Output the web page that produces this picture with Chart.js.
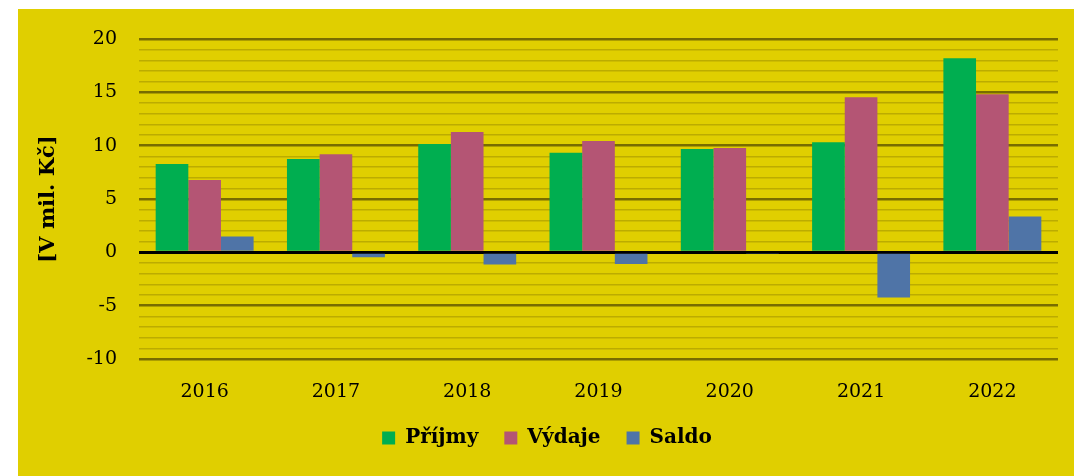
<!DOCTYPE html>
<html>
<head>
<meta charset="utf-8">
<script src="https://cdn.jsdelivr.net/npm/chart.js@4/dist/chart.umd.min.js"></script>
<style>
  html, body { margin: 0; padding: 0; background: #fff; }
  #wrap { width: 1074px; height: 476px; }
</style>
</head>
<body>
<div id="wrap"><canvas id="c" width="1074" height="476"></canvas></div>
<script>
const years = ['2016', '2017', '2018', '2019', '2020', '2021', '2022'];
const prijmy = [8.28, 8.75, 10.15, 9.34, 9.68, 10.31, 18.19];
const vydaje = [6.78, 9.19, 11.27, 10.43, 9.78, 14.55, 14.83];
const saldo = [1.48, -0.45, -1.14, -1.10, -0.10, -4.24, 3.36];
const yMin = -10, yMax = 20;

// yellow panel behind the chart (starts a bit in from the top-left corner)
const panelBg = {
  id: 'panelBg',
  beforeDraw(chart) {
    const ctx = chart.ctx;
    ctx.save();
    ctx.fillStyle = '#E0CF00';
    ctx.fillRect(18, 9, chart.width - 18, chart.height - 9);
    ctx.restore();
  }
};

const serif = 'DejaVu Serif';

new Chart(document.getElementById('c'), {
  type: 'bar',
  data: {
    labels: years,
    datasets: [
      { label: 'Příjmy', data: prijmy, backgroundColor: '#00AE50' },
      { label: 'Výdaje', data: vydaje, backgroundColor: '#B45574' },
      { label: 'Saldo', data: saldo, backgroundColor: '#4F74A7' }
    ]
  },
  options: {
    responsive: false,
    animation: false,
    layout: { padding: { top: 39, right: 16, bottom: 18, left: 36 } },
    datasets: {
      bar: { barPercentage: 1, categoryPercentage: 0.746 }
    },
    plugins: {
      legend: {
        position: 'bottom',
        labels: {
          boxWidth: 13,
          boxHeight: 13,
          padding: 26,
          color: '#000',
          font: { family: serif, size: 20, weight: 'bold' }
        }
      },
      tooltip: { enabled: false }
    },
    scales: {
      x: {
        grid: { display: false },
        border: { display: false },
        ticks: { color: '#000', padding: 14, font: { family: serif, size: 19 } },
        afterFit(scale) { scale.height = 43; }
      },
      y: {
        min: yMin,
        max: yMax,
        border: { display: false },
        grid: {
          drawTicks: false,
          color(ctx) {
            const v = ctx.tick.value;
            if (v === 0) return '#000';
            if (v % 5 === 0) return '#786C00';
            return '#BCAC00';
          },
          lineWidth(ctx) {
            const v = ctx.tick.value;
            if (v === 0) return 3;
            if (v % 5 === 0) return 2.5;
            return 1.5;
          }
        },
        ticks: {
          stepSize: 1,
          autoSkip: false,
          padding: 22,
          color: '#000',
          font: { family: serif, size: 19 },
          callback: v => (v % 5 === 0 ? String(v) : '')
        },
        title: {
          display: true,
          text: '[V mil. Kč]',
          color: '#000',
          padding: { top: 0, bottom: 0 },
          font: { family: serif, size: 21, weight: 'bold' }
        },
        afterFit(scale) { scale.width = 103; }
      }
    }
  },
  plugins: [panelBg]
});
</script>
</body>
</html>
